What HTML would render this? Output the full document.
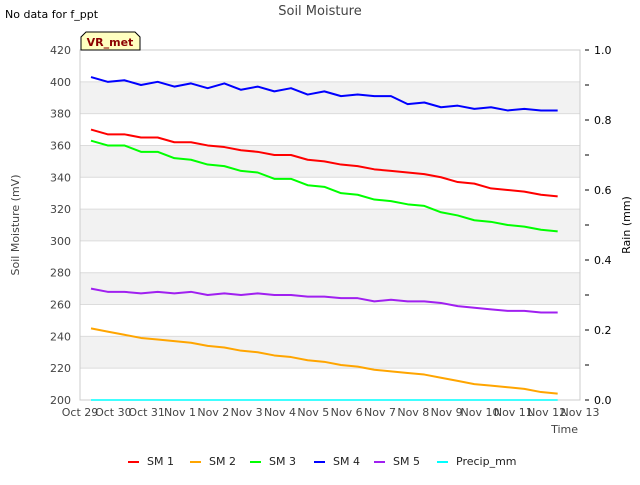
<!DOCTYPE html>
<html><head><meta charset="utf-8"><style>
body{margin:0;background:#fff;font-family:"Liberation Sans","DejaVu Sans",sans-serif}
text{font-family:"DejaVu Sans","Liberation Sans",sans-serif}
</style></head><body>
<svg id="c" width="640" height="480" xmlns="http://www.w3.org/2000/svg">
<rect width="640" height="480" fill="#fff"/>
<g id="bands"></g><g id="grid"></g><g id="axes"></g><g id="series"></g>
<text x="320" y="15" font-size="13" fill="#444" text-anchor="middle">Soil Moisture</text>
<text x="5" y="18" font-size="11" fill="#000">No data for f_ppt</text>
<g>
<path d="M81,50 L81,37 L86,32 L135,32 L140,37 L140,50 Z" fill="#ffffc0" stroke="#000" stroke-width="1"/>
<text x="110" y="46" font-size="11" font-weight="bold" fill="#8b0000" text-anchor="middle">VR_met</text></g>
<text transform="translate(19,225) rotate(-90)" font-size="11" fill="#444" text-anchor="middle">Soil Moisture (mV)</text>
<text transform="translate(630,225) rotate(-90)" font-size="11" fill="#000" text-anchor="middle">Rain (mm)</text>
<text x="578" y="433" font-size="11" fill="#444" text-anchor="end">Time</text>
<g id="legend"></g>
</svg>
<script>
const xTickLabels=["Oct 29","Oct 30","Oct 31","Nov 1","Nov 2","Nov 3","Nov 4","Nov 5","Nov 6","Nov 7","Nov 8","Nov 9","Nov 10","Nov 11","Nov 12","Nov 13"];
const yTicks=[200,220,240,260,280,300,320,340,360,380,400,420];
const y2Ticks=[0,0.2,0.4,0.6,0.8,1.0];
const tStart=0.33, tStep=0.5;
const sm1=[370,367,367,365,365,362,362,360,359,357,356,354,354,351,350,348,347,345,344,343,342,340,337,336,333,332,331,329,328];
const sm2=[245,243,241,239,238,237,236,234,233,231,230,228,227,225,224,222,221,219,218,217,216,214,212,210,209,208,207,205,204];
const sm3=[363,360,360,356,356,352,351,348,347,344,343,339,339,335,334,330,329,326,325,323,322,318,316,313,312,310,309,307,306];
const sm4=[403,400,401,398,400,397,399,396,399,395,397,394,396,392,394,391,392,391,391,386,387,384,385,383,384,382,383,382,382];
const sm5=[270,268,268,267,268,267,268,266,267,266,267,266,266,265,265,264,264,262,263,262,262,261,259,258,257,256,256,255,255];
const precip=[0,0,0,0,0,0,0,0,0,0,0,0,0,0,0,0,0,0,0,0,0,0,0,0,0,0,0,0,0];
const X0=80,X1=580,Y0=400,Y1=50;
const xs=d=>X0+d*(X1-X0)/15;
const ys=v=>Y0-(v-200)*(Y0-Y1)/220;
const y2s=v=>Y0-v*(Y0-Y1);
const NS="http://www.w3.org/2000/svg";
function mk(p,t,a){const e=document.createElementNS(NS,t);for(const k in a)e.setAttribute(k,a[k]);document.getElementById(p).appendChild(e);return e;}
for(let i=0;i<yTicks.length-1;i++){if(i%2===1){const r=mk('bands','rect',{x:X0,y:ys(yTicks[i+1]),width:X1-X0,height:ys(yTicks[i])-ys(yTicks[i+1]),fill:'#f2f2f2'});

}}
yTicks.forEach(v=>{const l=mk('grid','line',{x1:X0,x2:X1,y1:ys(v),y2:ys(v),stroke:'#dcdcdc'});


const t=mk('axes','text',{x:X0-9,y:ys(v)+4,'font-size':11,fill:'#444','text-anchor':'end'});t.textContent=v;

});
mk('axes','rect',{x:X0,y:Y1,width:X1-X0,height:Y0-Y1,fill:'none',stroke:'#ccc'});
for(let v=0;v<=10;v++){mk('axes','line',{x1:X1+5,x2:X1+9,y1:y2s(v/10),y2:y2s(v/10),stroke:'#000'});}
y2Ticks.forEach(v=>{const t=mk('axes','text',{x:X1+14,y:y2s(v)+4,'font-size':11,fill:'#000'});t.textContent=v.toFixed(1);

});
xTickLabels.forEach((s,i)=>{const t=mk('axes','text',{x:xs(i),y:416,'font-size':11,fill:'#444','text-anchor':'middle'});t.textContent=s;

});
const series=[["SM 1",sm1,"#ff0000",ys],["SM 2",sm2,"#ffa500",ys],["SM 3",sm3,"#00ff00",ys],["SM 4",sm4,"#0000ff",ys],["SM 5",sm5,"#a020f0",ys],["Precip_mm",precip,"#00ffff",y2s]];
const lx=[128,190,250,314,374,437];
series.forEach((s,k)=>{const pts=s[1].map((v,i)=>xs(tStart+i*tStep)+','+s[3](v)).join(' ');
const p=mk('series','polyline',{points:pts,fill:'none',stroke:s[2],'stroke-width':k===5?1.5:2,'stroke-linejoin':'round'});


const g=mk('legend','g',{});


const ln=document.createElementNS(NS,'line');ln.setAttribute('x1',lx[k]);ln.setAttribute('x2',lx[k]+11);ln.setAttribute('y1',462);ln.setAttribute('y2',462);ln.setAttribute('stroke',s[2]);ln.setAttribute('stroke-width',2);g.appendChild(ln);
const t=document.createElementNS(NS,'text');t.setAttribute('x',lx[k]+19);t.setAttribute('y',465);t.setAttribute('font-size',11);t.setAttribute('fill','#222');t.textContent=s[0];g.appendChild(t);});
</script>
</body></html>
